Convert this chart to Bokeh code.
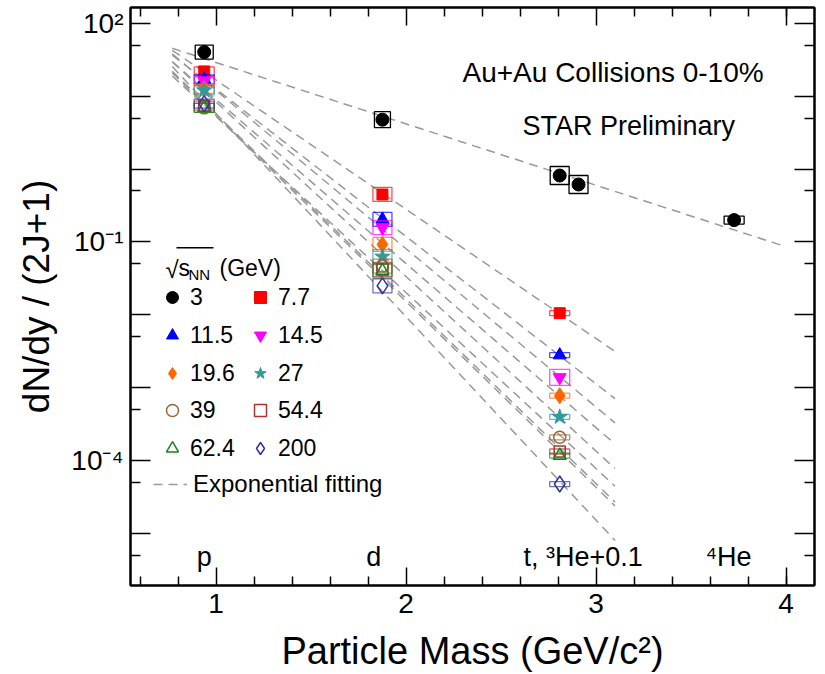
import numpy as np
from bokeh.plotting import figure
from bokeh.models import (FixedTicker, LinearAxis, LogAxis, Label, Legend, LegendItem,
                          BoxAnnotation, ColumnDataSource, CustomJSTickFormatter)
from bokeh.embed import file_html
from bokeh.resources import INLINE

# ---------------- data ----------------
energies = ["3", "7.7", "11.5", "14.5", "19.6", "27", "39", "54.4", "62.4", "200"]
mass_p = 0.938
mass_d = 1.876
mass_t = 2.809
mass_he3 = 2.808
he3_shift = 0.1
mass_he4 = 3.727

yield_p = [40.1, 21.8, 17.0, 16.0, 12.6, 12.0, 6.9, 7.4, 6.9, 7.9]
yield_d = [4.75, 0.448, 0.204, 0.157, 0.0927, 0.063, 0.0468, 0.042, 0.040, 0.025]
yield_t = [0.815, 0.01055, 2.81e-3, 1.39e-3, 7.8e-4, 4.0e-4, 2.1e-4, 1.34e-4, 1.18e-4, 4.8e-5]
yield_he3_3gev = 0.614
yield_he4_3gev = 0.1995

x_ticks = [1, 2, 3, 4]
x_minor = [0.6, 0.8, 1.2, 1.4, 1.6, 1.8, 2.2, 2.4, 2.6, 2.8, 3.2, 3.4, 3.6, 3.8, 4.0]
y_ticks = [1e-5, 1e-4, 1e-3, 1e-2, 1e-1, 1.0, 10.0, 100.0]
y_minor = [5e-6, 5e-5, 5e-4, 5e-3, 5e-2, 0.5, 5.0, 50.0]

# ---------------- style ----------------
FONT = "Liberation Sans"
colors = ["#000000", "#ff0000", "#0000ff", "#ff00ff", "#ff6600", "#339999",
          "#996633", "#aa3333", "#1a801a", "#333399"]
markers = ["circle", "square", "triangle", "inverted_triangle", "diamond", "star",
           "circle", "square", "triangle", "diamond"]
filled = [True, True, True, True, True, True, False, False, False, False]
msize = [13, 11, 13, 13, 16, 16, 12, 11, 13, 16]
fit_color = "#999999"
fit_dash = "9 6"
EMPTY = CustomJSTickFormatter(code="return '';")

FB = 587  # frame bottom in canvas px
FL = 130  # frame left in canvas px

p = figure(width=825, height=674, x_range=(0.55, 4.15), y_range=(1.95e-6, 164),
           y_axis_type="log", output_backend="svg", toolbar_location=None,
           min_border_left=130, min_border_right=11, min_border_top=7, min_border_bottom=87)
p.grid.visible = False
p.outline_line_color = "black"
p.outline_line_width = 2
p.background_fill_color = "white"
p.border_fill_color = "white"

xa = p.xaxis[0]
xa.ticker = FixedTicker(ticks=x_ticks, minor_ticks=x_minor)
xa.axis_label = "Particle Mass (GeV/c²)"
ya = p.yaxis[0]
ya.ticker = FixedTicker(ticks=y_ticks, minor_ticks=y_minor)
ya.formatter = CustomJSTickFormatter(code="""
const e = Math.round(Math.log10(tick));
if (e == 2) return "10²";
if (e == -1) return "10⁻¹";
if (e == -4) return "10⁻⁴";
return "";
""")
ya.axis_label = "dN/dy / (2J+1)"

for ax, tin, mtin in ((xa, 18, 9), (ya, 20, 10)):
    ax.axis_line_width = 2
    ax.major_tick_in = tin
    ax.major_tick_out = 0
    ax.minor_tick_in = mtin
    ax.minor_tick_out = 0
    ax.major_tick_line_width = 1.5
    ax.minor_tick_line_width = 1.5
    ax.major_label_text_font = FONT
    ax.axis_label_text_font = FONT
    ax.axis_label_text_font_style = "normal"
    ax.major_label_text_color = "black"
    ax.axis_label_text_color = "black"

xa.major_label_text_font_size = "28px"
xa.major_label_standoff = 8
xa.axis_label_text_font_size = "38px"
xa.axis_label_standoff = 14
ya.major_label_text_font_size = "28px"
ya.major_label_standoff = 7
ya.axis_label_text_font_size = "37px"
ya.axis_label_standoff = 11

top = LinearAxis(ticker=FixedTicker(ticks=x_ticks, minor_ticks=x_minor), formatter=EMPTY,
                 major_label_standoff=0,
                 major_tick_in=18, major_tick_out=0, minor_tick_in=9, minor_tick_out=0,
                 major_tick_line_width=1.5, minor_tick_line_width=1.5, axis_line_width=2)
p.add_layout(top, "above")
right = LogAxis(ticker=FixedTicker(ticks=y_ticks, minor_ticks=y_minor), formatter=EMPTY,
                major_label_standoff=0,
                major_tick_in=20, major_tick_out=0, minor_tick_in=10, minor_tick_out=0,
                major_tick_line_width=1.5, minor_tick_line_width=1.5, axis_line_width=2)
p.add_layout(right, "right")

# ---------------- fits ----------------
fit_x_min = 0.77
for i, e in enumerate(energies):
    if i == 0:
        ms = [mass_p, mass_d, mass_t, mass_he3, mass_he4]
        ys = [yield_p[0], yield_d[0], yield_t[0], yield_he3_3gev, yield_he4_3gev]
        xmax = 4.0
    else:
        ms = [mass_p, mass_d, mass_t]
        ys = [yield_p[i], yield_d[i], yield_t[i]]
        xmax = 3.1
    b, a = np.polyfit(ms, np.log10(ys), 1)
    xs = np.linspace(fit_x_min, xmax, 60)
    fit_r = p.line(xs, 10 ** (a + b * xs), line_color=fit_color, line_dash=fit_dash, line_width=1.5)

# ---------------- points + sys boxes ----------------
renderers = []
for i, e in enumerate(energies):
    if i == 0:
        xs = [mass_p, mass_d, mass_t, mass_he3 + he3_shift, mass_he4]
        ys = [yield_p[0], yield_d[0], yield_t[0], yield_he3_3gev, yield_he4_3gev]
        bh = [14, 16, 18, 18, 8]
        bw = [18, 16, 19, 19, 20]
    else:
        xs = [mass_p, mass_d, mass_t]
        ys = [yield_p[i], yield_d[i], yield_t[i]]
        bh = [9, 14, 16 if e == "14.5" else 5]
        bw = [20, 19, 20]
    src = ColumnDataSource(dict(x=xs, y=ys, bh=bh, bw=bw))
    p.rect("x", "y", width="bw", height="bh", width_units="screen", height_units="screen",
           source=src, fill_color=None, line_color=colors[i],
           line_alpha=1.0 if i == 0 else 0.7, line_width=1.3)
    c = colors[i]
    r = p.scatter("x", "y", source=src, marker=markers[i], size=msize[i],
                  fill_color=c if filled[i] else None, line_color=c,
                  line_width=1.0 if filled[i] else 1.5)
    renderers.append(r)

# ---------------- legend ----------------
row_y = [299, 337, 375, 412, 450]
col_x = [172, 260]
for i, e in enumerate(energies):
    cx = col_x[i % 2]
    cy = row_y[i // 2]
    lg = Legend(items=[LegendItem(label=e, renderers=[renderers[i]])],
                location=(cx - 15 - FL, FB - (cy + 15)),
                padding=0, margin=0, spacing=0, border_line_color=None,
                background_fill_alpha=0, glyph_width=30, glyph_height=30,
                label_standoff=3, label_height=30, label_text_color="black",
                label_text_font=FONT, label_text_font_size="23px")
    p.add_layout(lg)

lg_fit = Legend(items=[LegendItem(label="Exponential fitting", renderers=[fit_r])],
                location=(153 - FL, FB - 500), padding=0, margin=0, spacing=0,
                border_line_color=None, background_fill_alpha=0,
                glyph_width=34, glyph_height=20, label_standoff=6, label_height=20,
                label_text_color="black",
                label_text_font=FONT, label_text_font_size="24px")
p.add_layout(lg_fit)


def lab(text, x, y, size, xu="screen", align="left"):
    p.add_layout(Label(text=text, x=x, y=y, x_units=xu, y_units="screen",
                       text_font=FONT, text_font_size=size, text_align=align,
                       text_baseline="alphabetic", text_color="black"))


# legend header: sqrt(s_NN) (GeV)
lab("√", 165 - FL, FB - 271, "24px")
lab("s", 178 - FL, FB - 269, "23px")
lab("NN", 188 - FL, FB - 276, "15px")
lab("(GeV)", 219 - FL, FB - 269, "23px")
p.add_layout(BoxAnnotation(left=176 - FL, right=213 - FL, bottom=FB - 250, top=FB - 248.5,
                           left_units="screen", right_units="screen",
                           bottom_units="screen", top_units="screen",
                           fill_color="black", fill_alpha=1, line_alpha=0))

# annotations
lab("Au+Au Collisions 0-10%", 462 - FL, FB - 74, "28px")
lab("STAR Preliminary", 522 - FL, FB - 127, "27px")
lab("p", mass_p, FB - 558, "27px", xu="data", align="center")
lab("d", 1.83, FB - 558, "27px", xu="data", align="center")
lab("t, ³He+0.1", 523 - FL, FB - 558, "27px")
lab("⁴He", 705 - FL, FB - 558, "27px")

open("out.html", "w", encoding="utf-8").write(file_html(p, INLINE))
